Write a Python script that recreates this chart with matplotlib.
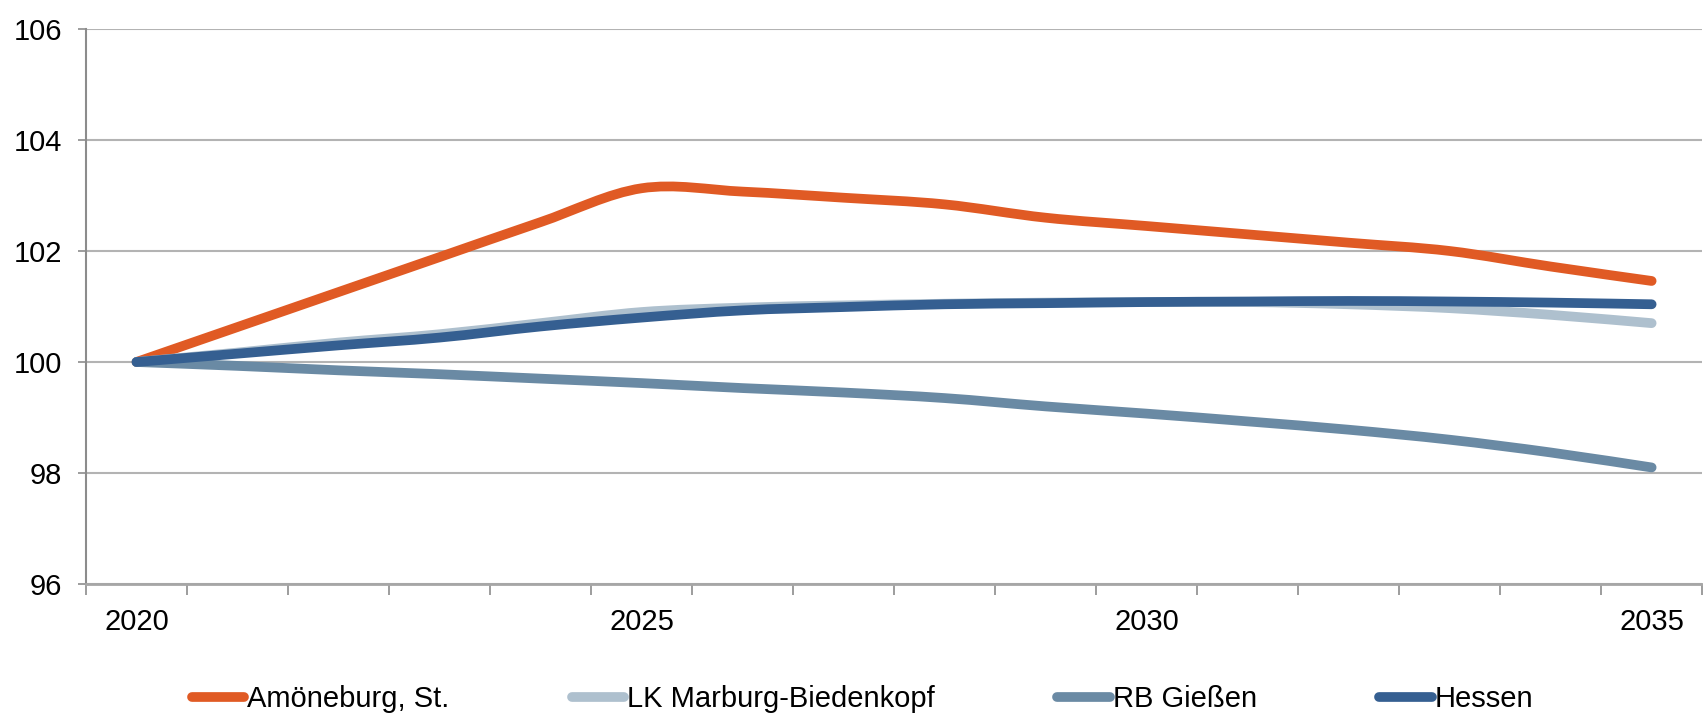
import numpy as np
import matplotlib
matplotlib.use("Agg")
import matplotlib.pyplot as plt
from matplotlib.path import Path
from matplotlib.patches import PathPatch
from matplotlib.lines import Line2D
from matplotlib.ticker import FixedLocator, NullFormatter

# ---- data (index 2020 = 100) ----
years = list(range(2020, 2036))
amoeneburg = [100.0, 100.63, 101.26, 101.89, 102.52, 103.13, 103.07, 102.96,
              102.84, 102.60, 102.45, 102.30, 102.15, 102.0, 101.72, 101.46]
lk_marburg = [100.0, 100.17, 100.35, 100.50, 100.70, 100.90, 100.98, 101.02,
              101.05, 101.07, 101.08, 101.08, 101.04, 100.97, 100.85, 100.70]
rb_giessen = [100.0, 99.93, 99.85, 99.78, 99.70, 99.62, 99.53, 99.45,
              99.35, 99.20, 99.07, 98.93, 98.78, 98.60, 98.37, 98.10]
hessen = [100.0, 100.15, 100.30, 100.44, 100.64, 100.80, 100.93, 100.99,
          101.04, 101.06, 101.08, 101.09, 101.10, 101.09, 101.07, 101.04]

labels = ["Amöneburg, St.", "LK Marburg-Biedenkopf", "RB Gießen", "Hessen"]
colors = ["#E05A24", "#AEC0CE", "#6A8AA4", "#355F91"]
year_labels = [2020, 2025, 2030, 2035]

plt.rcParams['font.family'] = ['Liberation Sans', 'DejaVu Sans']

LW = 7


def smooth_line(ax, xs, ys, color):
    # Excel-style smoothed line: Bezier segments through the data points
    pts = np.column_stack([xs, ys]).astype(float)
    verts = [pts[0]]
    codes = [Path.MOVETO]
    n = len(pts)
    for i in range(n - 1):
        p0 = pts[max(i - 1, 0)]
        p1 = pts[i]
        p2 = pts[i + 1]
        p3 = pts[min(i + 2, n - 1)]
        c1 = p1 + (p2 - p0) / 6.0
        c2 = p2 - (p3 - p1) / 6.0
        verts += [c1, c2, p2]
        codes += [Path.CURVE4] * 3
    patch = PathPatch(Path(verts, codes), facecolor='none', edgecolor=color,
                      lw=LW, capstyle='round', joinstyle='round', zorder=3)
    ax.add_patch(patch)


fig = plt.figure(figsize=(17.03, 7.21), dpi=100)
ax = fig.add_axes([0.0505, 0.19, 0.9490, 0.7698])

x = np.arange(len(years))
for series, col in zip([amoeneburg, lk_marburg, rb_giessen, hessen], colors):
    smooth_line(ax, x, series, col)

ax.set_xlim(-0.5, len(years) - 0.5)
ax.set_ylim(96, 106)
ax.set_yticks([96, 98, 100, 102, 104, 106])
ax.grid(axis='y', color='#b3b3b3', lw=1.5, zorder=0)

# category axis: ticks between categories, labels every 5 years
ax.set_xticks([years.index(y) for y in year_labels])
ax.set_xticklabels([str(y) for y in year_labels])
ax.xaxis.set_minor_locator(FixedLocator(np.arange(-0.5, len(years), 1.0)))
ax.xaxis.set_minor_formatter(NullFormatter())
ax.tick_params(axis='x', which='major', length=0, pad=17, labelsize=21)
ax.tick_params(axis='x', which='minor', length=8, width=1.2, color='#8c8c8c', direction='out')
ax.tick_params(axis='y', length=6, width=1.2, color='#8c8c8c', pad=11, labelsize=21)

for side in ['top', 'right']:
    ax.spines[side].set_visible(False)
ax.spines['left'].set_color('#8c8c8c')
ax.spines['left'].set_linewidth(1.5)
ax.spines['bottom'].set_color('#a6a6a6')
ax.spines['bottom'].set_linewidth(2)

handles = [Line2D([], [], color=c, lw=LW, solid_capstyle='round') for c in colors]
fig.legend(handles, labels, loc='center', bbox_to_anchor=(0.5065, 0.03), ncol=4,
           frameon=False, fontsize=21, handlelength=1.8, handletextpad=0.1,
           columnspacing=4.2)

fig.savefig("out.png", dpi=100)
